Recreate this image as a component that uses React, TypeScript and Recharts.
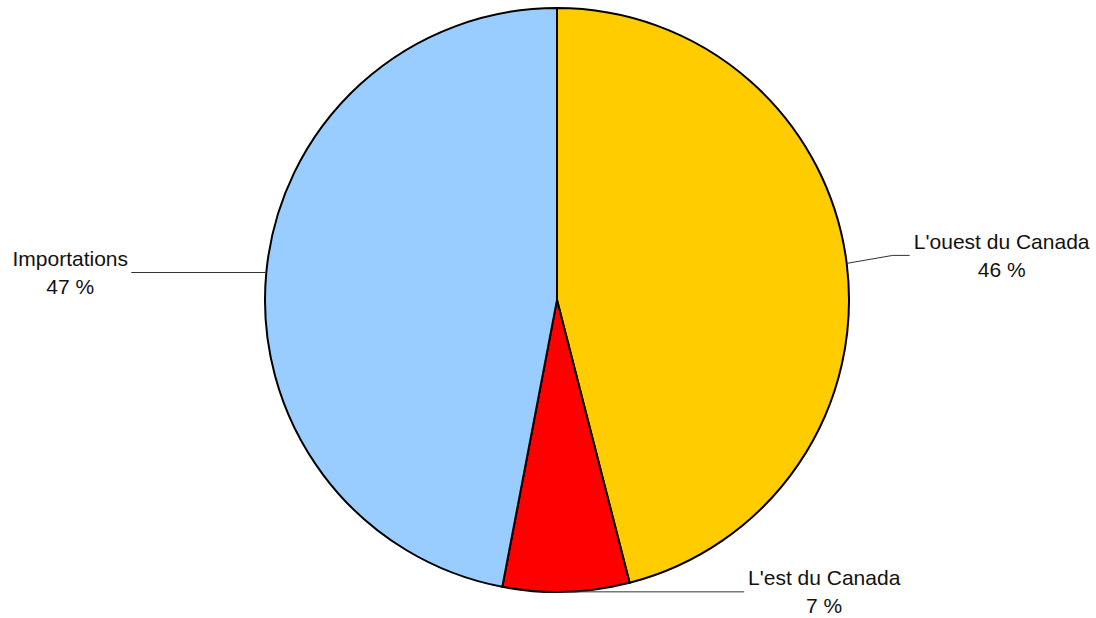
import { PieChart, Pie, Cell } from "recharts"

const regions = ["L'ouest du Canada", "L'est du Canada", "Importations"]
const shares = [46, 7, 47]
const colors = ["#FFCC00", "#FF0000", "#99CCFF"]

const data = regions.map((name, i) => ({ name, value: shares[i] }))

// label placement relative to the slice's edge point (Excel-style callouts)
const labelLayout: Record<string, { elbow?: [number, number]; end: [number, number]; text: [number, number] }> = {
  "L'ouest du Canada": { elbow: [46, -8], end: [63, -8], text: [155, -8] },
  "L'est du Canada": { end: [178, 0], text: [258, 0] },
  Importations: { end: [-135, 0], text: [-196, 0] },
}

const RADIAN = Math.PI / 180

function CalloutLabel(props: any) {
  const { cx, cy, midAngle, outerRadius, name, value } = props
  const ax = cx + outerRadius * Math.cos(-midAngle * RADIAN)
  const ay = cy + outerRadius * Math.sin(-midAngle * RADIAN)
  const lay = labelLayout[name]
  const pts = [[ax, ay]]
  if (lay.elbow) pts.push([ax + lay.elbow[0], ay + lay.elbow[1]])
  pts.push([ax + lay.end[0], ay + lay.end[1]])
  const tx = ax + lay.text[0]
  const ty = ay + lay.text[1]
  return (
    <g>
      <polyline points={pts.map((p) => p.join(",")).join(" ")} fill="none" stroke="#333" strokeWidth={1} />
      <text x={tx} y={ty - 14} textAnchor="middle" dominantBaseline="central" fill="#111" fontSize={21} fontFamily="Liberation Sans, Arial, sans-serif">
        {name}
      </text>
      <text x={tx} y={ty + 14} textAnchor="middle" dominantBaseline="central" fill="#111" fontSize={21} fontFamily="Liberation Sans, Arial, sans-serif">
        {`${value} %`}
      </text>
    </g>
  )
}

export default function App() {
  return (
    <div style={{ position: "absolute", left: 0, top: 0, width: 1096, height: 618, background: "#fff" }}>
      <PieChart width={1096} height={618} margin={{ top: 0, right: 0, bottom: 0, left: 0 }}>
        <Pie
          data={data}
          dataKey="value"
          nameKey="name"
          cx={557}
          cy={300}
          outerRadius={292}
          startAngle={90}
          endAngle={-270}
          stroke="#000"
          strokeWidth={2}
          label={CalloutLabel}
          labelLine={false}
          isAnimationActive={false}
        >
          {data.map((d, i) => (
            <Cell key={d.name} fill={colors[i]} />
          ))}
        </Pie>
      </PieChart>
    </div>
  )
}
